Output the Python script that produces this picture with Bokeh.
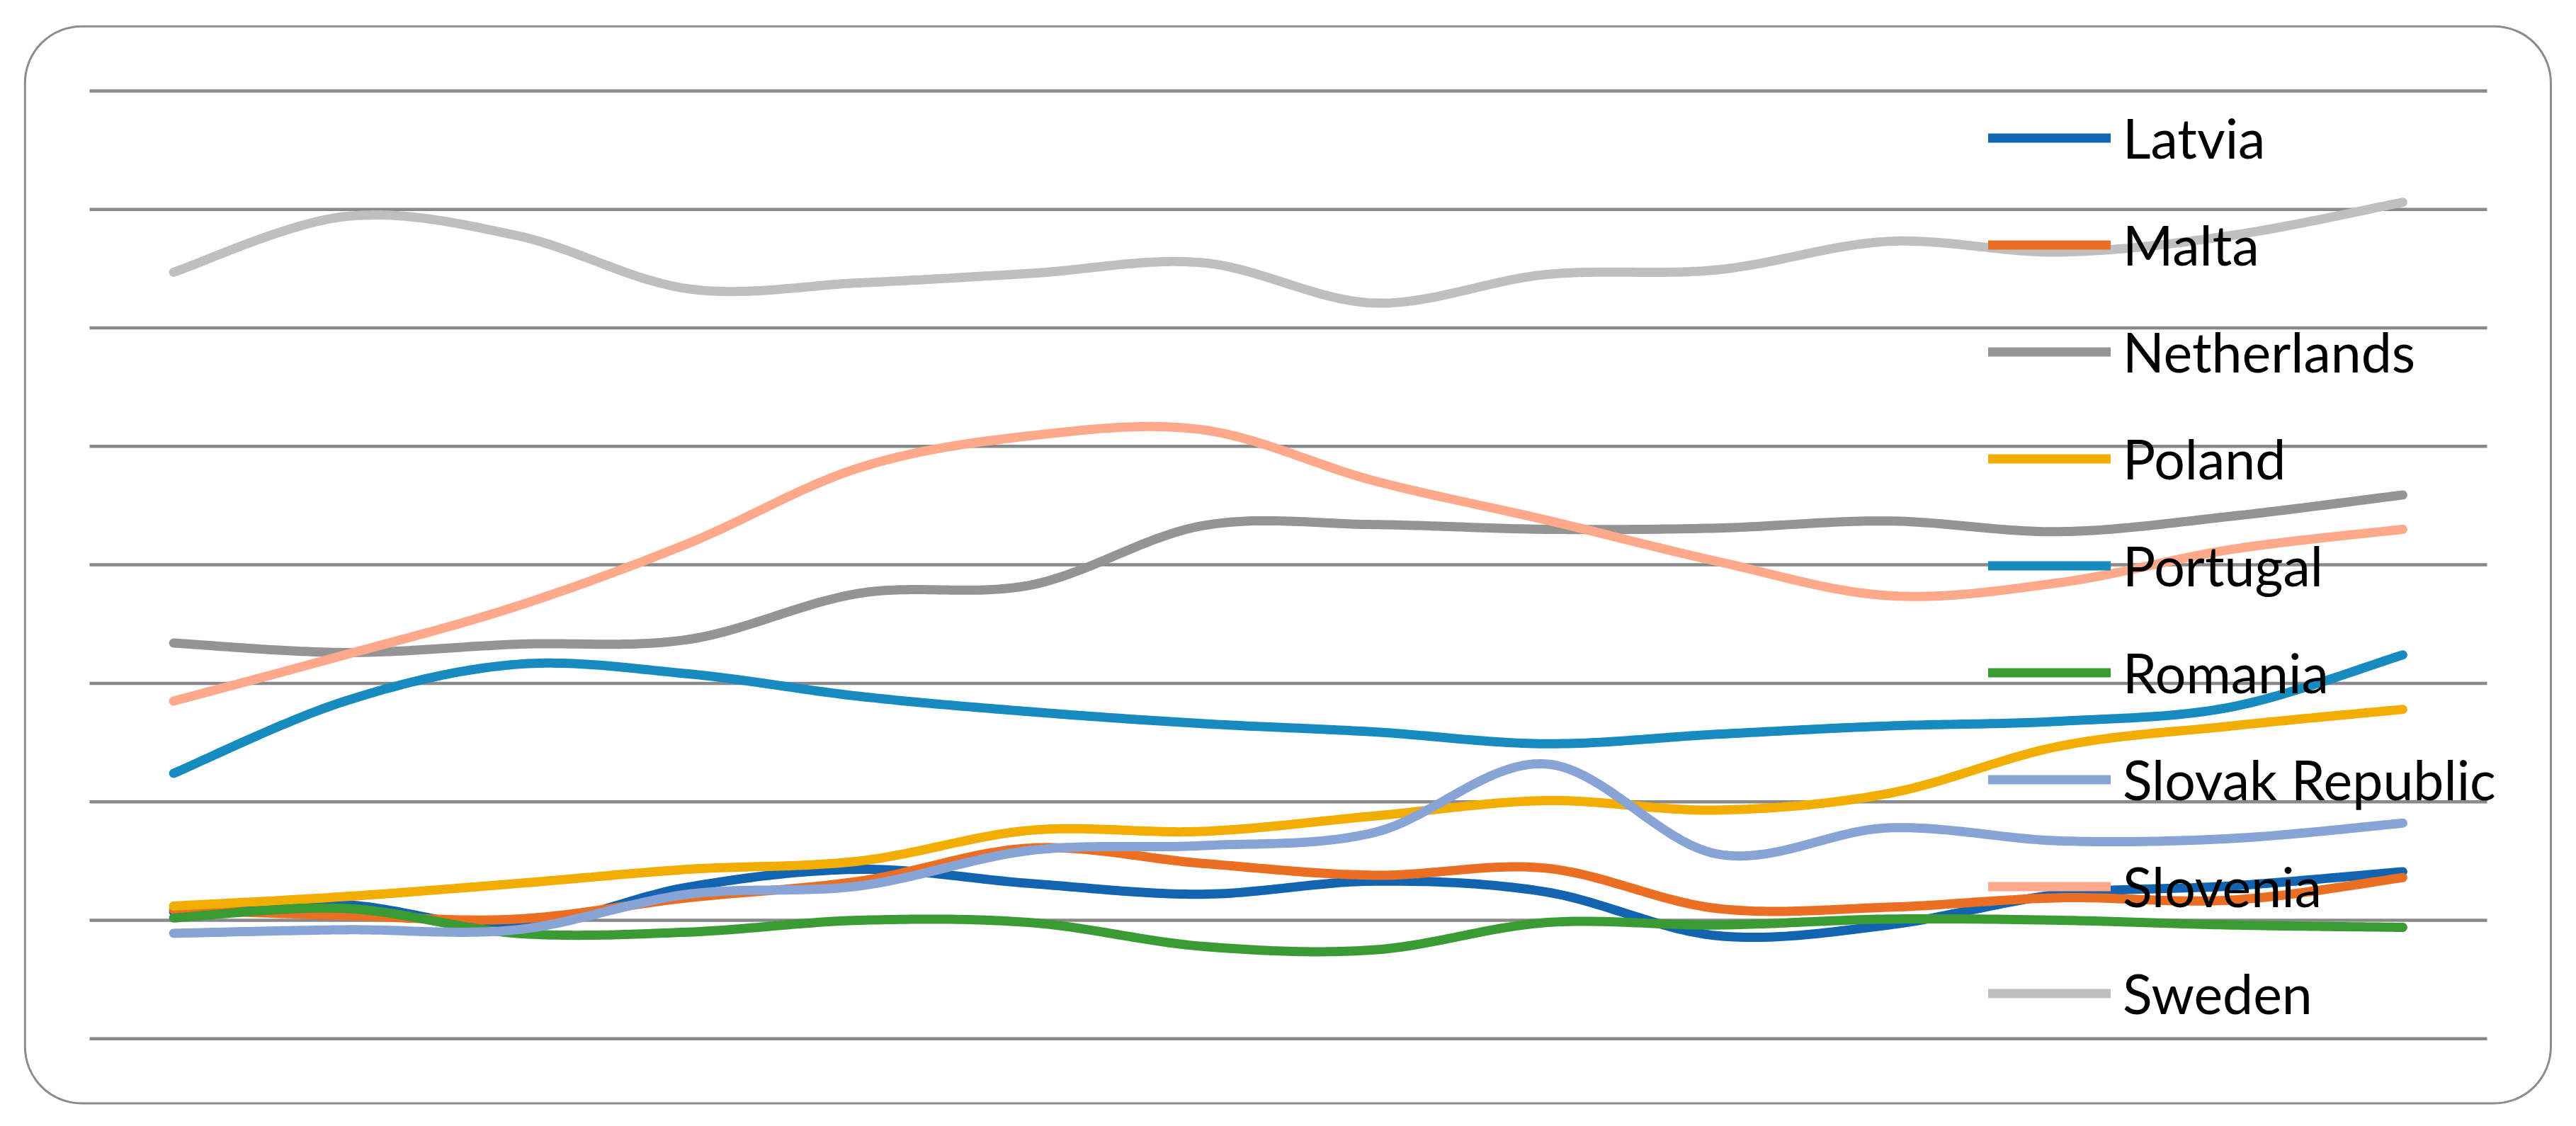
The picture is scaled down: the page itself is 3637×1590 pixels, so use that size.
import numpy as np
from bokeh.plotting import figure
from bokeh.models import BoxAnnotation, Range1d, Legend, LegendItem
from bokeh.embed import file_html
from bokeh.resources import INLINE

# ---- data (14 periods, no visible axis labels) ----
periods = list(range(14))
latvia      = [10.7, 11.3, 9.4, 12.8, 14.3, 13.1, 12.2, 13.3, 12.4, 8.7, 9.6, 12.2, 12.9, 14.1]
malta       = [10.9, 10.4, 10.1, 11.9, 13.3, 16.1, 14.8, 13.8, 14.4, 11.0, 11.1, 11.9, 11.7, 13.6]
netherlands = [33.4, 32.6, 33.3, 33.7, 37.6, 38.3, 43.3, 43.4, 43.0, 43.1, 43.7, 42.8, 44.1, 45.9]
poland      = [11.2, 12.0, 13.1, 14.3, 15.0, 17.6, 17.5, 18.8, 20.1, 19.3, 20.7, 24.7, 26.4, 27.8]
portugal    = [22.4, 28.5, 31.6, 30.8, 28.9, 27.6, 26.6, 25.9, 24.9, 25.7, 26.4, 26.8, 28.0, 32.4]
romania     = [10.2, 11.0, 8.9, 9.0, 10.0, 9.8, 7.8, 7.5, 9.8, 9.6, 10.1, 10.0, 9.6, 9.4]
slovak      = [8.9, 9.2, 9.2, 12.2, 12.9, 15.9, 16.3, 17.4, 23.2, 15.6, 17.8, 16.7, 16.9, 18.2]
slovenia    = [28.5, 32.4, 36.5, 41.8, 48.2, 50.9, 51.4, 47.1, 43.8, 40.3, 37.4, 38.5, 41.3, 43.0]
sweden      = [64.7, 69.4, 67.8, 63.3, 63.8, 64.6, 65.5, 62.1, 64.5, 64.9, 67.3, 66.4, 67.8, 70.6]

names  = ["Latvia", "Malta", "Netherlands", "Poland", "Portugal", "Romania",
          "Slovak Republic", "Slovenia", "Sweden"]
series = [latvia, malta, netherlands, poland, portugal, romania, slovak, slovenia, sweden]
colors = ["#1264B0", "#EC6E22", "#949494", "#F2AE00", "#178BC0", "#3A9A34",
          "#88A4D7", "#FEA98A", "#BFBFBF"]
grid_values = [0, 10, 20, 30, 40, 50, 60, 70, 80]

# ---- layout helpers (page pixel -> data) ----
W, H = 3621, 1574
OFF = 0                      # where the canvas lands on the page
X0P, DXP = 244.6, 242.1      # page x of first period, px per period
Y0P, DYP = 1466.3, 16.73     # page y of value 0, px per unit
def px(page_x):
    return (page_x - X0P) / DXP
def py(page_y):
    return (Y0P - page_y) / DYP

def smooth(xs, ys, n=30):
    """Excel-like smoothed line (Catmull-Rom Bezier) through the data points."""
    P = np.column_stack([xs, ys]).astype(float)
    m = len(P)
    out = []
    for i in range(m - 1):
        p0 = P[i - 1] if i > 0 else P[i]
        p1, p2 = P[i], P[i + 1]
        p3 = P[i + 2] if i + 2 < m else P[i + 1]
        c1 = p1 + (p2 - p0) / 6.0
        c2 = p2 - (p3 - p1) / 6.0
        t = np.linspace(0, 1, n, endpoint=(i == m - 2))[:, None]
        b = ((1 - t) ** 3) * p1 + 3 * ((1 - t) ** 2) * t * c1 + 3 * (1 - t) * t ** 2 * c2 + t ** 3 * p2
        out.append(b)
    B = np.vstack(out)
    return B[:, 0], B[:, 1]

p = figure(width=W, height=H, output_backend="svg", toolbar_location=None,
           x_range=Range1d(px(OFF), px(OFF + W)), y_range=Range1d(py(OFF + H), py(OFF)),
           min_border=0, outline_line_color=None)
p.axis.visible = False
p.grid.visible = False
p.background_fill_color = "white"
p.border_fill_color = "white"

# rounded chart border
p.add_layout(BoxAnnotation(left=px(34.8), right=px(3601), top=py(36.7), bottom=py(1557.5),
                           fill_alpha=0, line_color="#8C8C8C", line_alpha=1.0, line_width=3,
                           border_radius=80))

# horizontal gridlines
p.segment(x0=px(126), x1=px(3511), y0=grid_values, y1=grid_values,
          line_color="#898989", line_width=4.5)

items = []
for name, ys, c in zip(names, series, colors):
    sx, sy = smooth(periods, ys)
    r = p.line(sx, sy, line_color=c, line_width=13, line_cap="round", line_join="round")
    items.append(LegendItem(label=name, renderers=[r]))

leg_top = 194 - OFF - 75.5
legend = Legend(items=items, location=(2807 - OFF, H - (leg_top + 9 * 151)),
                orientation="vertical",
                glyph_width=173, glyph_height=151, spacing=0, padding=0, margin=0,
                label_standoff=17, label_text_font="Lato", label_text_font_size="77px",
                label_text_color="black", border_line_alpha=0, background_fill_alpha=0)
p.add_layout(legend, "center")

open("out.html", "w").write(file_html(p, INLINE))
